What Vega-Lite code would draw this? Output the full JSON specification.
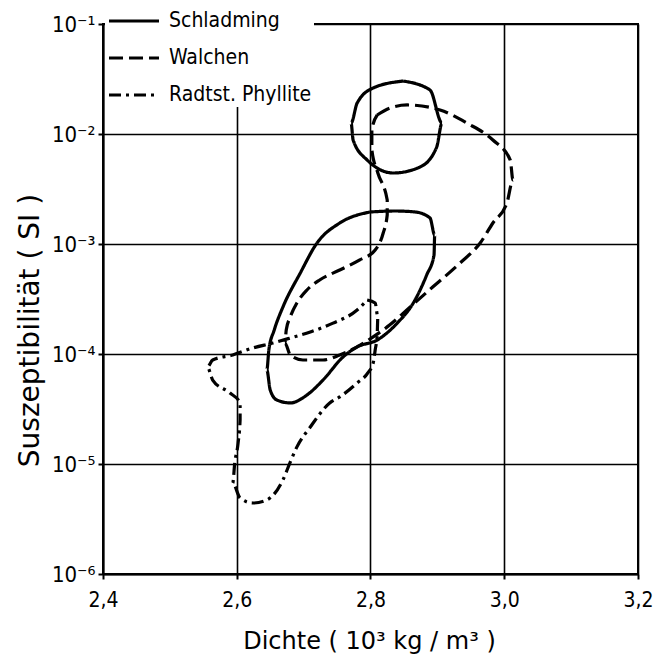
{
  "$schema": "https://vega.github.io/schema/vega-lite/v6.json",
  "width": 535,
  "height": 550,
  "autosize": {"type": "none"},
  "padding": {"left": 103, "top": 24, "right": 34, "bottom": 89},
  "background": "white",
  "config": {
    "font": "DejaVu Sans Condensed",
    "view": {"stroke": "black", "strokeWidth": 2},
    "axis": {
      "labelFont": "DejaVu Sans Condensed",
      "titleFont": "DejaVu Sans",
      "labelColor": "black",
      "titleColor": "black",
      "labelFontSize": 21,
      "titleFontWeight": "normal",
      "domainColor": "black",
      "domainWidth": 2,
      "tickColor": "black",
      "tickWidth": 2,
      "tickSize": 5,
      "gridColor": "black",
      "gridWidth": 1.6,
      "gridOpacity": 1
    },
    "legend": {
      "labelFont": "DejaVu Sans Condensed",
      "labelFontSize": 21,
      "labelColor": "black"
    }
  },
  "data": {
    "values": [
      {"series": "Schladming", "part": "a", "order": 1, "x": 2.849, "y": 0.0303},
      {"series": "Schladming", "part": "a", "order": 2, "x": 2.889, "y": 0.0251},
      {"series": "Schladming", "part": "a", "order": 3, "x": 2.907, "y": 0.01259},
      {"series": "Schladming", "part": "a", "order": 4, "x": 2.899, "y": 0.00762},
      {"series": "Schladming", "part": "a", "order": 5, "x": 2.874, "y": 0.00501},
      {"series": "Schladming", "part": "a", "order": 6, "x": 2.834, "y": 0.00442},
      {"series": "Schladming", "part": "a", "order": 7, "x": 2.795, "y": 0.0058},
      {"series": "Schladming", "part": "a", "order": 8, "x": 2.774, "y": 0.00882},
      {"series": "Schladming", "part": "a", "order": 9, "x": 2.771, "y": 0.01259},
      {"series": "Schladming", "part": "a", "order": 10, "x": 2.78, "y": 0.0191},
      {"series": "Schladming", "part": "a", "order": 11, "x": 2.804, "y": 0.0262},
      {"series": "Schladming", "part": "a", "order": 12, "x": 2.849, "y": 0.0303},

      {"series": "Schladming", "part": "b", "order": 1, "x": 2.799, "y": 0.001954},
      {"series": "Schladming", "part": "b", "order": 2, "x": 2.837, "y": 0.001995},
      {"series": "Schladming", "part": "b", "order": 3, "x": 2.867, "y": 0.001954},
      {"series": "Schladming", "part": "b", "order": 4, "x": 2.889, "y": 0.001722},
      {"series": "Schladming", "part": "b", "order": 5, "x": 2.896, "y": 0.001208},
      {"series": "Schladming", "part": "b", "order": 6, "x": 2.895, "y": 0.000794},
      {"series": "Schladming", "part": "b", "order": 7, "x": 2.884, "y": 0.000523},
      {"series": "Schladming", "part": "b", "order": 8, "x": 2.864, "y": 0.000291},
      {"series": "Schladming", "part": "b", "order": 9, "x": 2.84, "y": 0.000191},
      {"series": "Schladming", "part": "b", "order": 10, "x": 2.81, "y": 0.000134},
      {"series": "Schladming", "part": "b", "order": 11, "x": 2.78, "y": 0.000116},
      {"series": "Schladming", "part": "b", "order": 12, "x": 2.759, "y": 0.000094},
      {"series": "Schladming", "part": "b", "order": 13, "x": 2.729, "y": 0.000058},
      {"series": "Schladming", "part": "b", "order": 14, "x": 2.705, "y": 0.0000424},
      {"series": "Schladming", "part": "b", "order": 15, "x": 2.68, "y": 0.0000359},
      {"series": "Schladming", "part": "b", "order": 16, "x": 2.66, "y": 0.0000382},
      {"series": "Schladming", "part": "b", "order": 17, "x": 2.65, "y": 0.0000471},
      {"series": "Schladming", "part": "b", "order": 18, "x": 2.645, "y": 0.0000716},
      {"series": "Schladming", "part": "b", "order": 19, "x": 2.648, "y": 0.0001087},
      {"series": "Schladming", "part": "b", "order": 20, "x": 2.656, "y": 0.000165},
      {"series": "Schladming", "part": "b", "order": 21, "x": 2.669, "y": 0.000267},
      {"series": "Schladming", "part": "b", "order": 22, "x": 2.695, "y": 0.000545},
      {"series": "Schladming", "part": "b", "order": 23, "x": 2.72, "y": 0.001021},
      {"series": "Schladming", "part": "b", "order": 24, "x": 2.754, "y": 0.001552},
      {"series": "Schladming", "part": "b", "order": 25, "x": 2.799, "y": 0.001954},

      {"series": "Walchen", "part": "a", "order": 1, "x": 2.81, "y": 0.01489},
      {"series": "Walchen", "part": "a", "order": 2, "x": 2.829, "y": 0.01723},
      {"series": "Walchen", "part": "a", "order": 3, "x": 2.855, "y": 0.01836},
      {"series": "Walchen", "part": "a", "order": 4, "x": 2.904, "y": 0.01652},
      {"series": "Walchen", "part": "a", "order": 5, "x": 2.944, "y": 0.01259},
      {"series": "Walchen", "part": "a", "order": 6, "x": 2.983, "y": 0.00882},
      {"series": "Walchen", "part": "a", "order": 7, "x": 3.009, "y": 0.0058},
      {"series": "Walchen", "part": "a", "order": 8, "x": 3.013, "y": 0.00382},
      {"series": "Walchen", "part": "a", "order": 9, "x": 3.004, "y": 0.00236},
      {"series": "Walchen", "part": "a", "order": 10, "x": 2.983, "y": 0.001552},
      {"series": "Walchen", "part": "a", "order": 11, "x": 2.964, "y": 0.001021},
      {"series": "Walchen", "part": "a", "order": 12, "x": 2.934, "y": 0.000672},
      {"series": "Walchen", "part": "a", "order": 13, "x": 2.893, "y": 0.000406},
      {"series": "Walchen", "part": "a", "order": 14, "x": 2.859, "y": 0.000267},
      {"series": "Walchen", "part": "a", "order": 15, "x": 2.829, "y": 0.000184},
      {"series": "Walchen", "part": "a", "order": 16, "x": 2.804, "y": 0.000143},
      {"series": "Walchen", "part": "a", "order": 17, "x": 2.78, "y": 0.000116},
      {"series": "Walchen", "part": "a", "order": 18, "x": 2.754, "y": 0.000098},
      {"series": "Walchen", "part": "a", "order": 19, "x": 2.729, "y": 0.0000882},
      {"series": "Walchen", "part": "a", "order": 20, "x": 2.699, "y": 0.0000882},
      {"series": "Walchen", "part": "a", "order": 21, "x": 2.68, "y": 0.000098},
      {"series": "Walchen", "part": "a", "order": 22, "x": 2.672, "y": 0.0001259},
      {"series": "Walchen", "part": "a", "order": 23, "x": 2.674, "y": 0.000165},
      {"series": "Walchen", "part": "a", "order": 24, "x": 2.68, "y": 0.000217},
      {"series": "Walchen", "part": "a", "order": 25, "x": 2.69, "y": 0.000291},
      {"series": "Walchen", "part": "a", "order": 26, "x": 2.705, "y": 0.000382},
      {"series": "Walchen", "part": "a", "order": 27, "x": 2.724, "y": 0.000471},
      {"series": "Walchen", "part": "a", "order": 28, "x": 2.754, "y": 0.00058},
      {"series": "Walchen", "part": "a", "order": 29, "x": 2.784, "y": 0.000716},
      {"series": "Walchen", "part": "a", "order": 30, "x": 2.807, "y": 0.000882},
      {"series": "Walchen", "part": "a", "order": 31, "x": 2.819, "y": 0.001259},
      {"series": "Walchen", "part": "a", "order": 32, "x": 2.825, "y": 0.001836},
      {"series": "Walchen", "part": "a", "order": 33, "x": 2.825, "y": 0.002512},
      {"series": "Walchen", "part": "a", "order": 34, "x": 2.811, "y": 0.00442},
      {"series": "Walchen", "part": "a", "order": 35, "x": 2.802, "y": 0.00716},
      {"series": "Walchen", "part": "a", "order": 36, "x": 2.802, "y": 0.01087},
      {"series": "Walchen", "part": "a", "order": 37, "x": 2.81, "y": 0.01489},

      {"series": "Radtst. Phyllite", "part": "a", "order": 1, "x": 2.795, "y": 0.00031},
      {"series": "Radtst. Phyllite", "part": "a", "order": 2, "x": 2.807, "y": 0.000291},
      {"series": "Radtst. Phyllite", "part": "a", "order": 3, "x": 2.811, "y": 0.000217},
      {"series": "Radtst. Phyllite", "part": "a", "order": 4, "x": 2.81, "y": 0.000149},
      {"series": "Radtst. Phyllite", "part": "a", "order": 5, "x": 2.807, "y": 0.0001087},
      {"series": "Radtst. Phyllite", "part": "a", "order": 6, "x": 2.804, "y": 0.0000828},
      {"series": "Radtst. Phyllite", "part": "a", "order": 7, "x": 2.796, "y": 0.0000672},
      {"series": "Radtst. Phyllite", "part": "a", "order": 8, "x": 2.78, "y": 0.0000545},
      {"series": "Radtst. Phyllite", "part": "a", "order": 9, "x": 2.754, "y": 0.0000407},
      {"series": "Radtst. Phyllite", "part": "a", "order": 10, "x": 2.739, "y": 0.0000359},
      {"series": "Radtst. Phyllite", "part": "a", "order": 11, "x": 2.71, "y": 0.0000217},
      {"series": "Radtst. Phyllite", "part": "a", "order": 12, "x": 2.69, "y": 0.0000143},
      {"series": "Radtst. Phyllite", "part": "a", "order": 13, "x": 2.68, "y": 0.0000104},
      {"series": "Radtst. Phyllite", "part": "a", "order": 14, "x": 2.669, "y": 0.00000716},
      {"series": "Radtst. Phyllite", "part": "a", "order": 15, "x": 2.645, "y": 0.00000471},
      {"series": "Radtst. Phyllite", "part": "a", "order": 16, "x": 2.624, "y": 0.00000442},
      {"series": "Radtst. Phyllite", "part": "a", "order": 17, "x": 2.605, "y": 0.00000491},
      {"series": "Radtst. Phyllite", "part": "a", "order": 18, "x": 2.594, "y": 0.00000672},
      {"series": "Radtst. Phyllite", "part": "a", "order": 19, "x": 2.597, "y": 0.0000102},
      {"series": "Radtst. Phyllite", "part": "a", "order": 20, "x": 2.602, "y": 0.0000155},
      {"series": "Radtst. Phyllite", "part": "a", "order": 21, "x": 2.605, "y": 0.0000251},
      {"series": "Radtst. Phyllite", "part": "a", "order": 22, "x": 2.605, "y": 0.0000359},
      {"series": "Radtst. Phyllite", "part": "a", "order": 23, "x": 2.59, "y": 0.0000442},
      {"series": "Radtst. Phyllite", "part": "a", "order": 24, "x": 2.564, "y": 0.000058},
      {"series": "Radtst. Phyllite", "part": "a", "order": 25, "x": 2.556, "y": 0.0000762},
      {"series": "Radtst. Phyllite", "part": "a", "order": 26, "x": 2.564, "y": 0.0000882},
      {"series": "Radtst. Phyllite", "part": "a", "order": 27, "x": 2.594, "y": 0.000098},
      {"series": "Radtst. Phyllite", "part": "a", "order": 28, "x": 2.624, "y": 0.0001135},
      {"series": "Radtst. Phyllite", "part": "a", "order": 29, "x": 2.654, "y": 0.0001259},
      {"series": "Radtst. Phyllite", "part": "a", "order": 30, "x": 2.68, "y": 0.0001397},
      {"series": "Radtst. Phyllite", "part": "a", "order": 31, "x": 2.71, "y": 0.0001585},
      {"series": "Radtst. Phyllite", "part": "a", "order": 32, "x": 2.744, "y": 0.000191},
      {"series": "Radtst. Phyllite", "part": "a", "order": 33, "x": 2.78, "y": 0.000251},
      {"series": "Radtst. Phyllite", "part": "a", "order": 34, "x": 2.795, "y": 0.00031}
    ]
  },
  "mark": {"type": "line", "stroke": "black", "strokeWidth": 3.2, "interpolate": "monotone", "clip": true},
  "encoding": {
    "x": {
      "field": "x",
      "type": "quantitative",
      "scale": {"domain": [2.4, 3.2], "nice": false, "zero": false},
      "axis": {
        "values": [2.4, 2.6, 2.8, 3.0, 3.2],
        "labelExpr": "replace(format(datum.value, '.1f'), '.', ',')",
        "labelPadding": 10,
        "labelFlush": false,
        "title": "Dichte  ( 10³  kg / m³ )",
        "titleFontSize": 24,
        "titleX": 266,
        "titleY": 74,
        "titleBaseline": "alphabetic",
        "titleAlign": "center"
      }
    },
    "y": {
      "field": "y",
      "type": "quantitative",
      "scale": {"type": "log", "domain": [0.000001, 0.1], "nice": false},
      "axis": {
        "values": [0.000001, 0.00001, 0.0001, 0.001, 0.01, 0.1],
        "labelExpr": "datum.value > 0.05 ? '10⁻¹' : datum.value > 0.005 ? '10⁻²' : datum.value > 0.0005 ? '10⁻³' : datum.value > 0.00005 ? '10⁻⁴' : datum.value > 0.000005 ? '10⁻⁵' : '10⁻⁶'",
        "labelFontSize": 22,
        "labelPadding": 3,
        "labelFlush": false,
        "title": "Suszeptibilität  ( SI )",
        "titleFontSize": 28,
        "titleAngle": -90,
        "titleX": -65,
        "titleY": 306,
        "titleAlign": "center",
        "titleBaseline": "alphabetic"
      }
    },
    "detail": {"field": "part"},
    "order": {"field": "order", "type": "quantitative"},
    "strokeDash": {
      "field": "series",
      "type": "nominal",
      "scale": {
        "domain": ["Schladming", "Walchen", "Radtst. Phyllite"],
        "range": [[1, 0], [14, 6], [12, 5, 3, 5]]
      },
      "legend": {
        "orient": "none",
        "legendX": 2,
        "legendY": -32,
        "title": null,
        "fillColor": "white",
        "padding": 2,
        "symbolType": "stroke",
        "symbolSize": 2500,
        "symbolStrokeWidth": 3.2,
        "symbolStrokeColor": "black",
        "labelOffset": 8,
        "rowPadding": -4
      }
    }
  }
}
